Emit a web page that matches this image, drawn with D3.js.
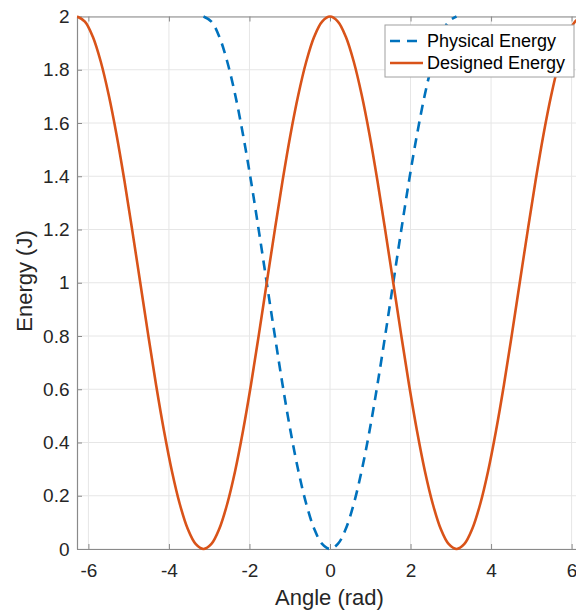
<!DOCTYPE html>
<html>
<head>
<meta charset="utf-8">
<script src="https://cdn.jsdelivr.net/npm/d3@7/dist/d3.min.js"></script>
<style>
  html, body { margin: 0; padding: 0; background: #fff; }
  svg { display: block; font-family: "Liberation Sans", Arial, sans-serif; }
</style>
</head>
<body>
<svg id="chart" width="576" height="611"></svg>
<script>
// Sampled angles (rad) from -2π to 2π
const angles = [
  -6.283, -6.087, -5.890, -5.694, -5.498, -5.301, -5.105, -4.909, -4.712,
  -4.516, -4.320, -4.123, -3.927, -3.731, -3.534, -3.338, -3.142,
  -2.945, -2.749, -2.553, -2.356, -2.160, -1.963, -1.767, -1.571,
  -1.374, -1.178, -0.982, -0.785, -0.589, -0.393, -0.196, 0,
  0.196, 0.393, 0.589, 0.785, 0.982, 1.178, 1.374, 1.571,
  1.767, 1.963, 2.160, 2.356, 2.553, 2.749, 2.945, 3.142,
  3.338, 3.534, 3.731, 3.927, 4.123, 4.320, 4.516, 4.712,
  4.909, 5.105, 5.301, 5.498, 5.694, 5.890, 6.087, 6.283
];

// Designed energy (J) at each angle
const designedEnergy = [
  2.000, 1.981, 1.924, 1.831, 1.707, 1.556, 1.383, 1.195, 1.000,
  0.805, 0.617, 0.444, 0.293, 0.169, 0.076, 0.019, 0.000,
  0.019, 0.076, 0.169, 0.293, 0.444, 0.617, 0.805, 1.000,
  1.195, 1.383, 1.556, 1.707, 1.831, 1.924, 1.981, 2.000,
  1.981, 1.924, 1.831, 1.707, 1.556, 1.383, 1.195, 1.000,
  0.805, 0.617, 0.444, 0.293, 0.169, 0.076, 0.019, 0.000,
  0.019, 0.076, 0.169, 0.293, 0.444, 0.617, 0.805, 1.000,
  1.195, 1.383, 1.556, 1.707, 1.831, 1.924, 1.981, 2.000
];

// Physical energy (J), sampled over -π..π
const physicalAngles = [
  -3.142, -2.945, -2.749, -2.553, -2.356, -2.160, -1.963, -1.767, -1.571,
  -1.374, -1.178, -0.982, -0.785, -0.589, -0.393, -0.196, 0,
  0.196, 0.393, 0.589, 0.785, 0.982, 1.178, 1.374, 1.571,
  1.767, 1.963, 2.160, 2.356, 2.553, 2.749, 2.945, 3.142
];
const physicalEnergy = [
  2.000, 1.981, 1.924, 1.831, 1.707, 1.556, 1.383, 1.195, 1.000,
  0.805, 0.617, 0.444, 0.293, 0.169, 0.076, 0.019, 0.000,
  0.019, 0.076, 0.169, 0.293, 0.444, 0.617, 0.805, 1.000,
  1.195, 1.383, 1.556, 1.707, 1.831, 1.924, 1.981, 2.000
];

const xTicks = [-6, -4, -2, 0, 2, 4, 6];
const yTicks = [0, 0.2, 0.4, 0.6, 0.8, 1, 1.2, 1.4, 1.6, 1.8, 2];
const seriesNames = ["Physical Energy", "Designed Energy"];
const seriesColors = ["#0072BD", "#D95319"];

const svg = d3.select("#chart");
const plotL = 77, plotR = 583, plotT = 16.5, plotB = 549;

const x = d3.scaleLinear().domain([-6.2832, 6.2832]).range([plotL, plotR]);
const y = d3.scaleLinear().domain([0, 2]).range([plotB, plotT]);

svg.append("defs").append("clipPath").attr("id", "plotClip")
  .append("rect").attr("x", plotL).attr("y", plotT - 2)
  .attr("width", plotR - plotL).attr("height", plotB - plotT + 4);

// grid
const grid = svg.append("g");
grid.selectAll(".gx").data(xTicks).join("line")
  .attr("x1", d => x(d)).attr("x2", d => x(d))
  .attr("y1", plotT).attr("y2", plotB)
  .attr("stroke", "#e6e6e6").attr("stroke-width", 1);
grid.selectAll(".gy").data(yTicks).join("line")
  .attr("x1", plotL).attr("x2", plotR)
  .attr("y1", d => y(d)).attr("y2", d => y(d))
  .attr("stroke", "#e6e6e6").attr("stroke-width", 1);

// axes (inward ticks, boxed)
const axisColor = "#8a8a8a";
const xAxisB = svg.append("g").attr("transform", `translate(0,${plotB})`)
  .call(d3.axisBottom(x).tickValues(xTicks).tickSizeInner(-5).tickSizeOuter(0).tickPadding(15)
    .tickFormat(d => d < 0 ? "-" + Math.abs(d) : d));
const xAxisT = svg.append("g").attr("transform", `translate(0,${plotT})`)
  .call(d3.axisTop(x).tickValues(xTicks).tickSizeInner(-5).tickSizeOuter(0).tickFormat(""));
const yAxisL = svg.append("g").attr("transform", `translate(${plotL},0)`)
  .call(d3.axisLeft(y).tickValues(yTicks).tickSizeInner(-5).tickSizeOuter(0).tickPadding(7.5)
    .tickFormat(d => String(d)));

[xAxisB, xAxisT, yAxisL].forEach(g => {
  g.select(".domain").attr("stroke", axisColor).attr("stroke-width", 1.2);
  g.selectAll(".tick line").attr("stroke", axisColor);
  g.selectAll(".tick text").attr("fill", "#262626").attr("font-size", 19)
    .attr("font-family", "Liberation Sans, Arial, sans-serif");
});

// axis labels
svg.append("text").attr("x", 329.5).attr("y", 605)
  .attr("text-anchor", "middle").attr("font-size", 22).attr("fill", "#262626")
  .text("Angle (rad)");
svg.append("text")
  .attr("transform", `translate(32,281) rotate(-90)`)
  .attr("text-anchor", "middle").attr("font-size", 22).attr("fill", "#262626")
  .text("Energy (J)");

// curves
const plot = svg.append("g").attr("clip-path", "url(#plotClip)");
const line = d3.line().x(d => x(d[0])).y(d => y(d[1])).curve(d3.curveCatmullRom);

plot.append("path")
  .datum(physicalAngles.map((a, i) => [a, physicalEnergy[i]]))
  .attr("d", line).attr("fill", "none")
  .attr("stroke", seriesColors[0]).attr("stroke-width", 2.6)
  .attr("stroke-dasharray", "10,7");

plot.append("path")
  .datum(angles.map((a, i) => [a, designedEnergy[i]]))
  .attr("d", line).attr("fill", "none")
  .attr("stroke", seriesColors[1]).attr("stroke-width", 2.6);

// legend
const lg = svg.append("g");
lg.append("rect").attr("x", 385).attr("y", 25).attr("width", 189).attr("height", 52)
  .attr("fill", "#fff").attr("stroke", "#a0a0a0").attr("stroke-width", 1);
seriesNames.forEach((name, i) => {
  const cy = 41 + i * 22;
  lg.append("line").attr("x1", 390).attr("x2", 423).attr("y1", cy).attr("y2", cy)
    .attr("stroke", seriesColors[i]).attr("stroke-width", 2.6)
    .attr("stroke-dasharray", i === 0 ? "10,7" : null);
  lg.append("text").attr("x", 427).attr("y", cy + 6)
    .attr("font-size", 18).attr("fill", "#000").text(name);
});
</script>
</body>
</html>
